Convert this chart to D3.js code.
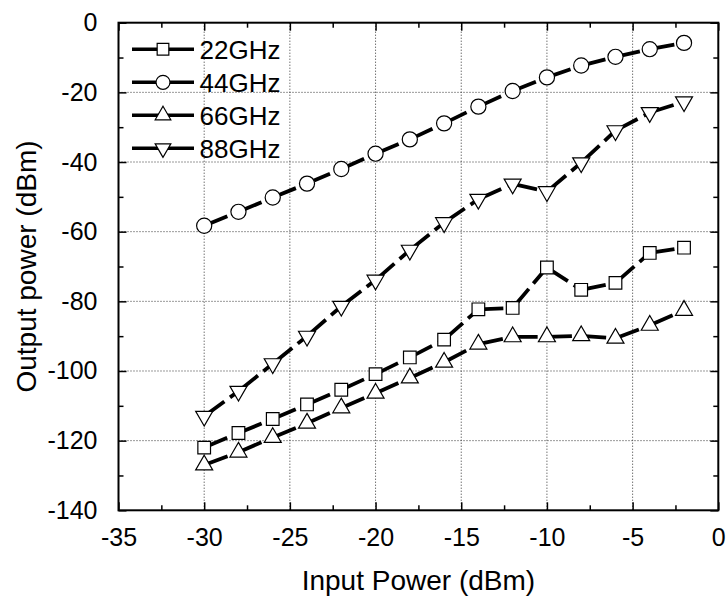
<!DOCTYPE html>
<html>
<head>
<meta charset="utf-8">
<script src="https://cdn.jsdelivr.net/npm/d3@7"></script>
<style>
  body { margin: 0; background: #fff; }
  text { font-family: Arial, "Liberation Sans", sans-serif; fill: #000; }
</style>
</head>
<body>
<div id="chart"></div>
<script>
// data
var inputPower = [-30, -28, -26, -24, -22, -20, -18, -16, -14, -12, -10, -8, -6, -4, -2];
var out22 = [-122, -117.8, -113.8, -109.6, -105.4, -100.9, -96.1, -91, -82.3, -81.9, -70.3, -76.7, -74.7, -66.1, -64.6];
var out44 = [-58.3, -54.3, -50.2, -46.2, -42, -37.6, -33.5, -28.9, -24.1, -19.6, -15.7, -12.3, -9.8, -7.6, -5.8];
var out66 = [-127, -123.3, -119.1, -115, -110.6, -106.4, -102, -97.5, -92.3, -90.2, -90.2, -89.9, -90.6, -86.9, -82.6];
var out88 = [-113, -105.8, -97.9, -90, -81.4, -73.9, -65.3, -57.4, -50.7, -46.3, -48.5, -40.2, -31, -25.8, -22.7];
var seriesNames = ["22GHz", "44GHz", "66GHz", "88GHz"];
var xTicks = [-35, -30, -25, -20, -15, -10, -5, 0];
var yTicks = [-140, -120, -100, -80, -60, -40, -20, 0];

// set the dimensions and margins of the graph
var margin = { top: 22.7, right: 9.7, bottom: 86.7, left: 118.5 },
  width = 728 - margin.left - margin.right,
  height = 597 - margin.top - margin.bottom;

var svgRoot = d3.select("#chart")
  .append("svg")
  .attr("width", 728)
  .attr("height", 597);

var svg = svgRoot.append("g")
  .attr("transform", "translate(" + margin.left + "," + margin.top + ")");

var x = d3.scaleLinear().domain([-35, 0]).range([0, width]);
var y = d3.scaleLinear().domain([-140, 0]).range([height, 0]);

// plain hyphen minus, like the original
var fmt = d => String(d);

// minor tick positions (midpoints)
var xMinor = d3.range(-32.5, 0, 5);
var yMinor = d3.range(-130, 0, 20);

// dotted grid
svg.append("g")
  .selectAll("line")
  .data(xTicks.slice(1, -1))
  .enter()
  .append("line")
  .attr("x1", d => x(d)).attr("x2", d => x(d))
  .attr("y1", 0).attr("y2", height)
  .attr("stroke", "#333")
  .attr("stroke-width", 1)
  .attr("stroke-dasharray", "1,2");
svg.append("g")
  .selectAll("line")
  .data(yTicks.slice(1, -1))
  .enter()
  .append("line")
  .attr("y1", d => y(d)).attr("y2", d => y(d))
  .attr("x1", 0).attr("x2", width)
  .attr("stroke", "#333")
  .attr("stroke-width", 1)
  .attr("stroke-dasharray", "1,2");

// axes with inward ticks
function styleAxis(g) {
  g.select(".domain").remove();
  g.selectAll(".tick line").attr("stroke", "#000").attr("stroke-width", 1.5);
  g.selectAll("text").style("font-size", "25px").style("font-family", "Arial, 'Liberation Sans', sans-serif");
}

svg.append("g")
  .attr("transform", "translate(0," + height + ")")
  .call(d3.axisBottom(x).tickValues(xTicks).tickSize(-8).tickPadding(18).tickFormat(fmt))
  .call(styleAxis)
  .selectAll("text").attr("dy", "0.71em");
svg.append("g")
  .attr("transform", "translate(0," + height + ")")
  .call(d3.axisBottom(x).tickValues(xMinor).tickSize(-5).tickFormat(""))
  .call(styleAxis);
svg.append("g")
  .call(d3.axisTop(x).tickValues(xTicks).tickSize(-8).tickFormat(""))
  .call(styleAxis);
svg.append("g")
  .call(d3.axisTop(x).tickValues(xMinor).tickSize(-5).tickFormat(""))
  .call(styleAxis);

svg.append("g")
  .call(d3.axisLeft(y).tickValues(yTicks).tickSize(-8).tickPadding(21).tickFormat(fmt))
  .call(styleAxis);
svg.append("g")
  .call(d3.axisLeft(y).tickValues(yMinor).tickSize(-5).tickFormat(""))
  .call(styleAxis);
svg.append("g")
  .attr("transform", "translate(" + width + ",0)")
  .call(d3.axisRight(y).tickValues(yTicks).tickSize(-8).tickFormat(""))
  .call(styleAxis);
svg.append("g")
  .attr("transform", "translate(" + width + ",0)")
  .call(d3.axisRight(y).tickValues(yMinor).tickSize(-5).tickFormat(""))
  .call(styleAxis);

// frame
svg.append("rect")
  .attr("width", width)
  .attr("height", height)
  .attr("fill", "none")
  .attr("stroke", "#000")
  .attr("stroke-width", 2);

// axis titles
svgRoot.append("text")
  .attr("x", margin.left + width / 2)
  .attr("y", 590)
  .attr("text-anchor", "middle")
  .style("font-size", "28px")
  .text("Input Power (dBm)");
svgRoot.append("text")
  .attr("transform", "translate(36," + (margin.top + height / 2) + ") rotate(-90)")
  .attr("text-anchor", "middle")
  .style("font-size", "28px")
  .text("Output power (dBm)");

// marker shapes
var symbols = [
  { type: d3.symbolSquare, size: 160, rotate: 0 },
  { type: d3.symbolCircle, size: 180, rotate: 0 },
  { type: d3.symbolTriangle, size: 125, rotate: 0 },
  { type: d3.symbolTriangle, size: 125, rotate: 180 }
];

var dataset = [out22, out44, out66, out88].map(function (vals, i) {
  return {
    key: seriesNames[i],
    sym: symbols[i],
    values: vals.map(function (v, j) { return { x: inputPower[j], y: v }; })
  };
});

// draw dashed segments, restarting the dash at each point, then markers
dataset.forEach(function (s) {
  var segs = d3.pairs(s.values);
  svg.append("g")
    .selectAll("line")
    .data(segs)
    .enter()
    .append("line")
    .attr("x1", d => x(d[0].x)).attr("y1", d => y(d[0].y))
    .attr("x2", d => x(d[1].x)).attr("y2", d => y(d[1].y))
    .attr("stroke", "#000")
    .attr("stroke-width", 3.8)
    .attr("stroke-dasharray", "25,7");

  svg.append("g")
    .selectAll("path")
    .data(s.values)
    .enter()
    .append("path")
    .attr("d", d3.symbol().type(s.sym.type).size(s.sym.size))
    .attr("transform", d => "translate(" + x(d.x) + "," + y(d.y) + ") rotate(" + s.sym.rotate + ")")
    .attr("fill", "#fff")
    .attr("stroke", "#000")
    .attr("stroke-width", 1.2);
});

// legend
var legend = svg.append("g")
  .selectAll("g")
  .data(dataset)
  .enter()
  .append("g")
  .attr("transform", (d, i) => "translate(0," + (26.6 + i * 33) + ")");

legend.append("line")
  .attr("x1", 13.5).attr("x2", 75.5)
  .attr("y1", 0).attr("y2", 0)
  .attr("stroke", "#000")
  .attr("stroke-width", 3.5);
legend.append("path")
  .attr("d", d => d3.symbol().type(d.sym.type).size(d.sym.size * 0.85)())
  .attr("transform", d => "translate(44.5,0) rotate(" + d.sym.rotate + ")")
  .attr("fill", "#fff")
  .attr("stroke", "#000")
  .attr("stroke-width", 1.2);
legend.append("text")
  .attr("x", 81)
  .attr("y", 0)
  .attr("dy", "0.36em")
  .style("font-size", "26px")
  .text(d => d.key);
</script>
</body>
</html>
